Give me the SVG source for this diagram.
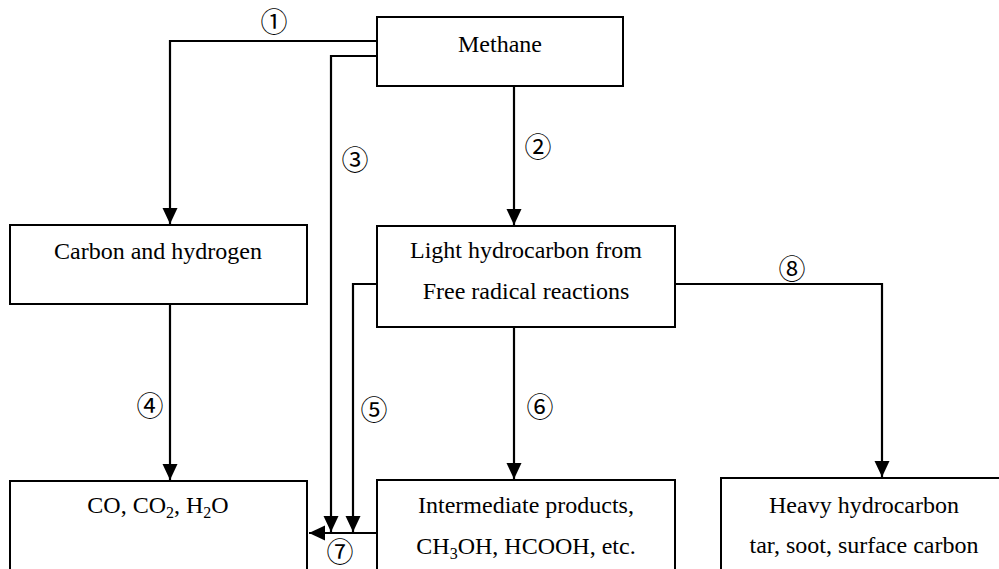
<svg xmlns="http://www.w3.org/2000/svg" width="999" height="569" viewBox="0 0 999 569">
<style>
.box{fill:#fff;stroke:#000;stroke-width:2}
.t{font-family:"Liberation Serif","Times New Roman",serif;font-size:24px;fill:#000;text-anchor:middle}
.n{font-family:"Noto Sans CJK SC","DejaVu Sans",sans-serif;font-size:27px;fill:#000;text-anchor:middle;dominant-baseline:central}
.c{fill:none;stroke:#000;stroke-width:2.2}
.sub{font-size:16px}
</style>
<defs>
<marker id="ah" markerUnits="userSpaceOnUse" markerWidth="17" markerHeight="17" refX="16" refY="7.5" orient="auto">
<path d="M0,0 L16,7.5 L0,15 Z" fill="#000"/>
</marker>
</defs>
<rect width="999" height="569" fill="#fff"/>
<g id="connectors">
<path class="c" d="M377,41 H170 V224" marker-end="url(#ah)"/>
<path class="c" d="M377,56 H331 V532" marker-end="url(#ah)"/>
<path class="c" d="M514,86 V225" marker-end="url(#ah)"/>
<path class="c" d="M170,304 V480" marker-end="url(#ah)"/>
<path class="c" d="M377,284 H353 V532" marker-end="url(#ah)"/>
<path class="c" d="M514,327 V479" marker-end="url(#ah)"/>
<path class="c" d="M377,533 H309" marker-end="url(#ah)"/>
<path class="c" d="M675,284 H882 V477" marker-end="url(#ah)"/>
<text class="n" x="274" y="20">①</text>
<text class="n" x="538" y="145">②</text>
<text class="n" x="355" y="158">③</text>
<text class="n" x="150" y="404">④</text>
<text class="n" x="374" y="408">⑤</text>
<text class="n" x="540" y="405">⑥</text>
<text class="n" x="340" y="550">⑦</text>
<text class="n" x="792" y="267">⑧</text>
</g>
<g id="methane">
<rect class="box" x="377" y="17" width="246" height="69"/>
<text class="t" x="500" y="52">Methane</text>
</g>
<g id="carbon-hydrogen">
<rect class="box" x="10" y="225" width="297" height="79"/>
<text class="t" x="158" y="259">Carbon and hydrogen</text>
</g>
<g id="light-hydrocarbon">
<rect class="box" x="377" y="226" width="298" height="101"/>
<text class="t" x="526" y="258">Light hydrocarbon from</text>
<text class="t" x="526" y="299">Free radical reactions</text>
</g>
<g id="co-co2-h2o">
<rect class="box" x="10" y="481" width="297" height="100"/>
<text class="t" x="158" y="513">CO, CO<tspan class="sub" dy="5">2</tspan><tspan dy="-5">, H</tspan><tspan class="sub" dy="5">2</tspan><tspan dy="-5">O</tspan></text>
</g>
<g id="intermediate">
<rect class="box" x="377" y="480" width="298" height="100"/>
<text class="t" x="526" y="513">Intermediate products,</text>
<text class="t" x="526" y="554">CH<tspan class="sub" dy="5">3</tspan><tspan dy="-5">OH, HCOOH, etc.</tspan></text>
</g>
<g id="heavy-hydrocarbon">
<rect class="box" x="721" y="478" width="290" height="100"/>
<text class="t" x="864" y="513">Heavy hydrocarbon</text>
<text class="t" x="864" y="553">tar, soot, surface carbon</text>
</g>
</svg>
